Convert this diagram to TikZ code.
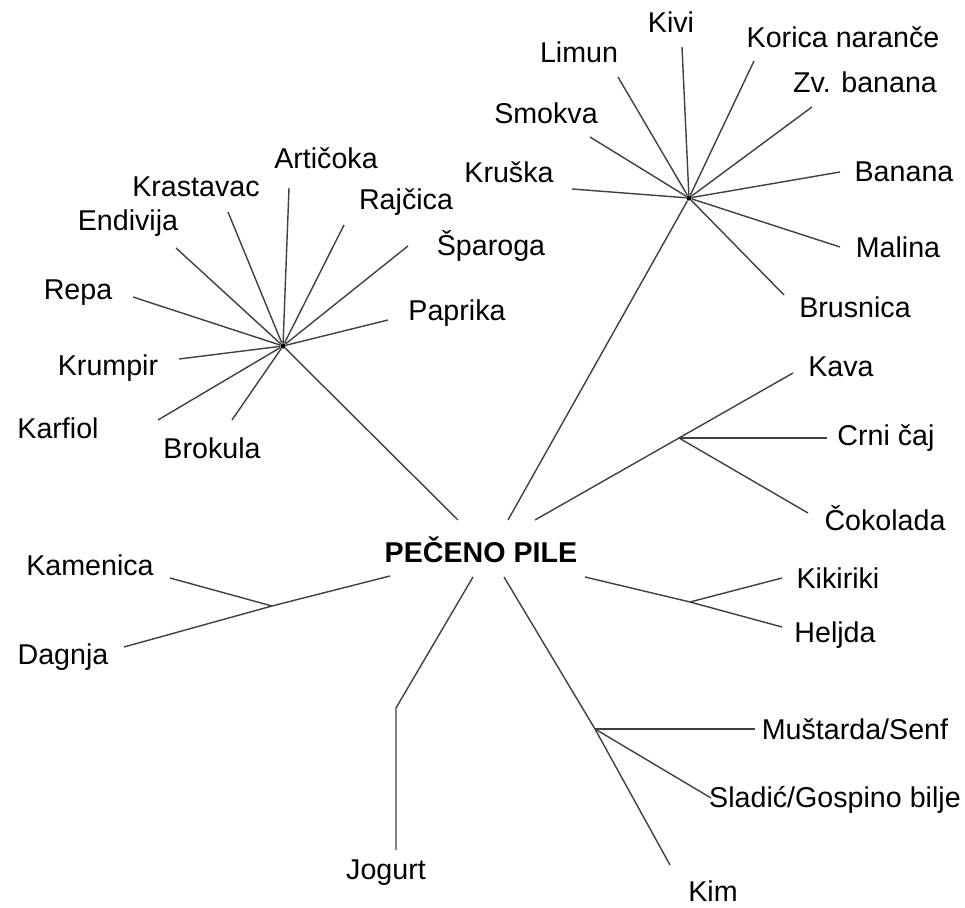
\documentclass[tikz,border=0pt]{standalone}
\usepackage{fontspec}
\setmainfont{Liberation Sans}
\usetikzlibrary{positioning}

\tikzset{
  spoke/.style={draw=black!75, line width=0.8pt},
  lbl/.style={inner sep=0pt, font=\fontsize{16.3}{19}\selectfont},
  hub/.style={circle, fill=black, inner sep=0pt, minimum size=3pt}
}

\begin{document}
\begin{tikzpicture}[x=0.02cm, y=-0.02cm]
      \useasboundingbox (0,0) rectangle (965,908);
      % centre
      \node[lbl, font=\fontsize{16.3}{19}\selectfont\bfseries] (pile) at (481,550) {PEČENO PILE};
      \coordinate (pileNW) at (458,520);
      \coordinate (pileN) at (508,520);
      \coordinate (pileNE) at (535,520);
      \coordinate (pileW) at (390,576);
      \coordinate (pileE) at (585,577);
      \coordinate (pileS) at (473,577);
      \coordinate (pileSE) at (504,577);

      % povrce
      \node[hub] (povrce) at (283,346) {};
      \node[lbl] (articoka) at (326,158) {Artičoka};
      \node[lbl] (krastavac) at (196,187) {Krastavac};
      \node[lbl] (endivija) at (128,223) {Endivija};
      \node[lbl] (repa) at (78,293) {Repa};
      \node[lbl] (krumpir) at (108,368) {Krumpir};
      \node[lbl] (karfiol) at (58,428) {Karfiol};
      \node[lbl] (brokula) at (212,448) {Brokula};
      \node[lbl] (rajcica) at (406,202) {Rajčica};
      \node[lbl] (sparoga) at (491,246) {Šparoga};
      \node[lbl] (paprika) at (457,313) {Paprika};
      \coordinate (articokaE) at (289,188);
      \coordinate (krastavacE) at (228,212);
      \coordinate (endivijaE) at (176,248);
      \coordinate (repaE) at (133,297);
      \coordinate (krumpirE) at (179,359);
      \coordinate (karfiolE) at (158,420);
      \coordinate (brokulaE) at (232,420);
      \coordinate (rajcicaE) at (344,225);
      \coordinate (sparogaE) at (408,246);
      \coordinate (paprikaE) at (388,320);
      \draw[spoke] (povrce) -- (articokaE);
      \draw[spoke] (povrce) -- (krastavacE);
      \draw[spoke] (povrce) -- (endivijaE);
      \draw[spoke] (povrce) -- (repaE);
      \draw[spoke] (povrce) -- (krumpirE);
      \draw[spoke] (povrce) -- (karfiolE);
      \draw[spoke] (povrce) -- (brokulaE);
      \draw[spoke] (povrce) -- (rajcicaE);
      \draw[spoke] (povrce) -- (sparogaE);
      \draw[spoke] (povrce) -- (paprikaE);
      \draw[spoke] (povrce) -- (pileNW);

      % voce
      \node[hub] (voce) at (689,198) {};
      \node[lbl] (kivi) at (671,22) {Kivi};
      \node[lbl] (limun) at (579,52) {Limun};
      \node[lbl] (smokva) at (546,113) {Smokva};
      \node[lbl] (kruska) at (509,172) {Kruška};
      \node[lbl] (korica) at (843,37) {Korica naranče};
      \node[lbl] (zvbanana) at (865,82) {Zv. banana};
      \node[lbl] (banana) at (904,172) {Banana};
      \node[lbl] (malina) at (898,247) {Malina};
      \node[lbl] (brusnica) at (855,307) {Brusnica};
      \coordinate (kiviE) at (682,47);
      \coordinate (limunE) at (618,77);
      \coordinate (smokvaE) at (590,137);
      \coordinate (kruskaE) at (572,189);
      \coordinate (koricaE) at (754,61);
      \coordinate (zvbananaE) at (812,107);
      \coordinate (bananaE) at (840,172);
      \coordinate (malinaE) at (840,247);
      \coordinate (brusnicaE) at (784,295);
      \draw[spoke] (voce) -- (kiviE);
      \draw[spoke] (voce) -- (limunE);
      \draw[spoke] (voce) -- (smokvaE);
      \draw[spoke] (voce) -- (kruskaE);
      \draw[spoke] (voce) -- (koricaE);
      \draw[spoke] (voce) -- (zvbananaE);
      \draw[spoke] (voce) -- (bananaE);
      \draw[spoke] (voce) -- (malinaE);
      \draw[spoke] (voce) -- (brusnicaE);
      \draw[spoke] (voce) -- (pileN);

      % pica
      \coordinate (pica) at (679,438);
      \node[lbl] (kava) at (841,367) {Kava};
      \node[lbl] (crnicaj) at (886,438) {Crni čaj};
      \node[lbl] (cokolada) at (885,518) {Čokolada};
      \coordinate (kavaE) at (793,373);
      \coordinate (crnicajE) at (827,438);
      \coordinate (cokoladaE) at (808,513);
      \draw[spoke] (pileNE) -- (pica) -- (kavaE);
      \draw[spoke] (pica) -- (crnicajE);
      \draw[spoke] (pica) -- (cokoladaE);

      % skoljke
      \coordinate (skoljke) at (272,606);
      \node[lbl] (kamenica) at (90,565) {Kamenica};
      \node[lbl] (dagnja) at (63,657) {Dagnja};
      \coordinate (kamenicaE) at (170,578);
      \coordinate (dagnjaE) at (124,647);
      \draw[spoke] (pileW) -- (skoljke) -- (dagnjaE);
      \draw[spoke] (skoljke) -- (kamenicaE);

      % zrnje
      \coordinate (zrnje) at (690,602);
      \node[lbl] (kikiriki) at (838,578) {Kikiriki};
      \node[lbl] (heljda) at (835,635) {Heljda};
      \coordinate (kikirikiE) at (782,578);
      \coordinate (heljdaE) at (782,627);
      \draw[spoke] (pileE) -- (zrnje) -- (heljdaE);
      \draw[spoke] (zrnje) -- (kikirikiE);

      % jogurt
      \node[lbl] (jogurt) at (386,873) {Jogurt};
      \coordinate (jogurtK) at (396,708);
      \coordinate (jogurtE) at (396,850);
      \draw[spoke] (pileS) -- (jogurtK) -- (jogurtE);

      % zacini
      \coordinate (zacini) at (595,729);
      \node[lbl] (kim) at (713,891) {Kim};
      \node[lbl] (senf) at (855,729) {Muštarda/Senf};
      \node[lbl] (sladic) at (835,800) {Sladić/Gospino bilje};
      \coordinate (kimE) at (670,865);
      \coordinate (senfE) at (755,729);
      \coordinate (sladicE) at (711,798);
      \draw[spoke] (pileSE) -- (zacini) -- (kimE);
      \draw[spoke] (zacini) -- (senfE);
      \draw[spoke] (zacini) -- (sladicE);
\end{tikzpicture}
\end{document}
